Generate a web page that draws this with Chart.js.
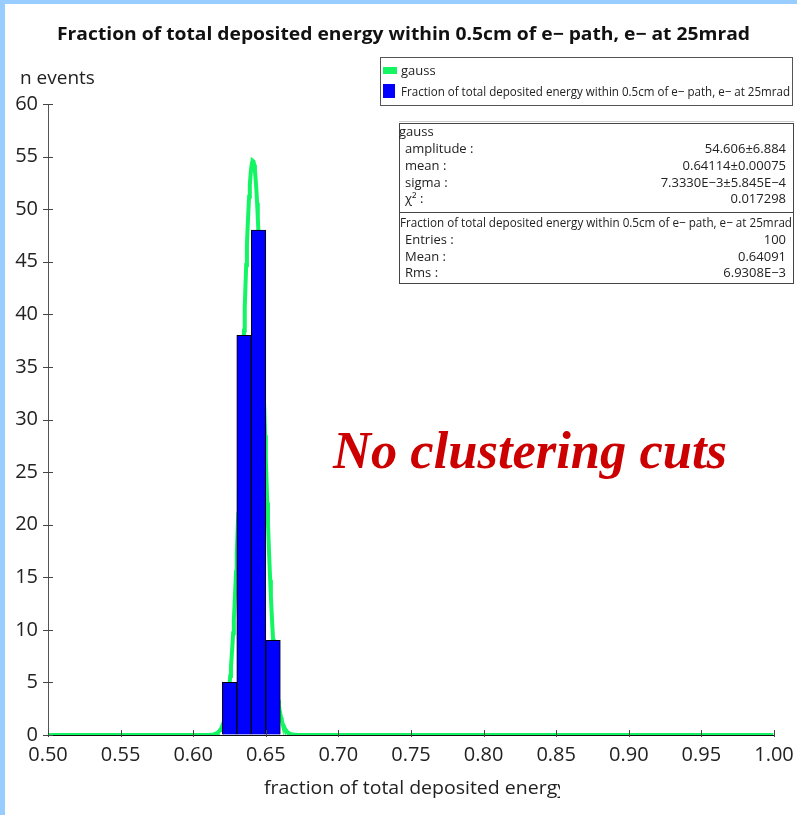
<!DOCTYPE html>
<html>
<head>
<meta charset="utf-8">
<script src="https://cdn.jsdelivr.net/npm/chart.js@4/dist/chart.umd.min.js"></script>
<style>
  html, body { margin: 0; padding: 0; background: #ffffff; }
  canvas { display: block; }
</style>
</head>
<body>
<canvas id="c" width="797" height="815"></canvas>
<script>
// Histogram: energy fraction bins (width 0.01) and their entry counts
const binCenters = [0.625, 0.635, 0.645, 0.655];
const binCounts = [5, 38, 48, 9];

// Gaussian fit parameters
const gaussAmplitude = 54.606;
const gaussMean = 0.64114;
const gaussSigma = 7.3330e-3;

// Axis ranges and tick steps
const xRange = [0.50, 1.00];
const xStep = 0.05;
const yRange = [0, 60];
const yStep = 5;

// Text of the fit and statistics boxes
const titleText = 'Fraction of total deposited energy within 0.5cm of e\u2212 path, e\u2212 at 25mrad';
const fitRows = [
  ['amplitude :', '54.606\u00b16.884'],
  ['mean :', '0.64114\u00b10.00075'],
  ['sigma :', '7.3330E\u22123\u00b15.845E\u22124'],
  ['\u03c7\u00b2 :', '0.017298']
];
const statRows = [
  ['Entries :', '100'],
  ['Mean :', '0.64091'],
  ['Rms :', '6.9308E\u22123']
];

// Fitted curve sampled across the x range
const curveStep = 0.0005;
const curvePoints = [];
for (let x = xRange[0]; x <= xRange[1] + 1e-9; x += curveStep) {
  const z = (x - gaussMean) / gaussSigma;
  curvePoints.push({ x: x, y: gaussAmplitude * Math.exp(-0.5 * z * z) });
}

const SANS = '"Open Sans", "DejaVu Sans", sans-serif';

function fitText(ctx, text, x, y, width, font, color) {
  ctx.font = font;
  ctx.fillStyle = color;
  ctx.textAlign = 'left';
  ctx.textBaseline = 'alphabetic';
  const w = ctx.measureText(text).width;
  ctx.save();
  ctx.translate(x, y);
  ctx.scale(width / w, 1);
  ctx.fillText(text, 0, 0);
  ctx.restore();
}

const decorations = {
  id: 'decorations',
  beforeDraw(chart) {
    const ctx = chart.ctx;
    ctx.save();
    ctx.fillStyle = '#ffffff';
    ctx.fillRect(0, 0, chart.width, chart.height);
    ctx.restore();
  },
  afterDraw(chart) {
    const ctx = chart.ctx;
    const xs = chart.scales.x, ys = chart.scales.y;
    const area = chart.chartArea;
    ctx.save();

    // tick marks crossing the axes
    ctx.strokeStyle = '#444';
    ctx.lineWidth = 1;
    ys.ticks.forEach(t => {
      const py = Math.round(ys.getPixelForValue(t.value)) + 0.5;
      ctx.beginPath();
      ctx.moveTo(area.left - 5, py);
      ctx.lineTo(area.left + 5, py);
      ctx.stroke();
    });
    xs.ticks.forEach(t => {
      const px = Math.round(xs.getPixelForValue(t.value)) + 0.5;
      ctx.beginPath();
      ctx.moveTo(px, area.bottom - 5);
      ctx.lineTo(px, area.bottom + 2);
      ctx.stroke();
    });

    // title
    fitText(ctx, titleText, 57, 40, 693, 'bold 18px ' + SANS, '#111');

    // axis titles
    ctx.font = '19px ' + SANS;
    ctx.fillStyle = '#222';
    ctx.textAlign = 'left';
    ctx.textBaseline = 'alphabetic';
    ctx.fillText('n events', 20, 84);
    ctx.save();
    ctx.beginPath();
    ctx.rect(250, 760, 310, 50);
    ctx.clip();
    fitText(ctx, 'fraction of total deposited energy', 264, 794, 303, '19px ' + SANS, '#222');
    ctx.restore();

    // legend box
    ctx.fillStyle = '#ffffff';
    ctx.fillRect(380, 57, 412, 49);
    ctx.strokeStyle = '#555';
    ctx.lineWidth = 1;
    ctx.strokeRect(380.5, 57.5, 412, 48);
    ctx.fillStyle = 'rgb(20,245,100)';
    ctx.fillRect(383, 67, 14, 7);
    ctx.fillStyle = '#0000ff';
    ctx.fillRect(383, 84, 12, 14);
    ctx.font = '13px ' + SANS;
    ctx.fillStyle = '#222';
    ctx.fillText('gauss', 401, 75);
    fitText(ctx, titleText, 401, 96, 389, '13px ' + SANS, '#222');

    // fit and statistics box
    ctx.fillStyle = '#ffffff';
    ctx.fillRect(399, 123, 394, 161);
    ctx.strokeStyle = '#ccc';
    ctx.beginPath(); ctx.moveTo(399, 121.5); ctx.lineTo(794, 121.5); ctx.stroke();
    ctx.strokeStyle = '#444';
    ctx.strokeRect(399.5, 123.5, 394, 160);
    ctx.beginPath(); ctx.moveTo(399, 212.5); ctx.lineTo(794, 212.5); ctx.stroke();

    ctx.font = '13px ' + SANS;
    ctx.fillStyle = '#222';
    ctx.textAlign = 'left';
    ctx.fillText('gauss', 399, 136);
    fitRows.forEach((r, i) => {
      const by = 153 + i * 16.8;
      ctx.textAlign = 'left';
      ctx.fillText(r[0], 405, by);
      ctx.textAlign = 'right';
      ctx.fillText(r[1], 786, by);
    });
    fitText(ctx, titleText, 400, 227, 392, '13px ' + SANS, '#222');
    ctx.font = '13px ' + SANS;
    statRows.forEach((r, i) => {
      const by = 244 + i * 16.5;
      ctx.textAlign = 'left';
      ctx.fillText(r[0], 405, by);
      ctx.textAlign = 'right';
      ctx.fillText(r[1], 786, by);
    });

    // annotation
    fitText(ctx, 'No clustering cuts', 333, 468, 394,
      'italic bold 53px "Liberation Serif", "Times New Roman", serif', '#cc0000');

    // page frame
    ctx.fillStyle = '#99ccff';
    ctx.fillRect(0, 0, chart.width, 4);
    ctx.fillRect(0, 0, 5, chart.height);
    ctx.restore();
  }
};

new Chart(document.getElementById('c'), {
  type: 'bar',
  data: {
    datasets: [
      {
        type: 'bar',
        label: 'Fraction of total deposited energy within 0.5cm of e- path, e- at 25mrad',
        data: binCenters.map((c, i) => ({ x: c, y: binCounts[i] })),
        backgroundColor: '#0000ff',
        borderColor: '#000000',
        borderWidth: 1,
        barPercentage: 1.0,
        categoryPercentage: 1.0,
        order: 0
      },
      {
        type: 'line',
        label: 'gauss',
        data: curvePoints,
        borderColor: 'rgb(20,245,100)',
        borderWidth: 4,
        pointRadius: 0,
        tension: 0,
        fill: false,
        order: 1
      }
    ]
  },
  options: {
    responsive: false,
    animation: false,
    events: [],
    layout: { padding: { left: 0, top: 104, right: 23, bottom: 0 } },
    plugins: {
      legend: { display: false },
      title: { display: false },
      tooltip: { enabled: false }
    },
    scales: {
      x: {
        type: 'linear',
        min: xRange[0],
        max: xRange[1],
        offset: false,
        grid: { display: true, drawOnChartArea: false, drawTicks: false, offset: false },
        border: { display: true, color: '#111', width: 1 },
        ticks: {
          stepSize: xStep,
          padding: 8,
          color: '#222',
          font: { family: SANS, size: 20 },
          maxRotation: 0,
          autoSkip: false,
          callback: v => Number(v).toFixed(2)
        },
        afterFit(scale) {
          scale.height = 80;
          scale.paddingLeft = 0;
          scale.paddingRight = 0;
        }
      },
      y: {
        type: 'linear',
        min: yRange[0],
        max: yRange[1],
        grid: { display: true, drawOnChartArea: false, drawTicks: false },
        border: { display: true, color: '#555', width: 1 },
        ticks: {
          stepSize: yStep,
          padding: 10,
          color: '#222',
          font: { family: SANS, size: 20 }
        },
        afterFit(scale) {
          scale.width = 48;
          scale.paddingTop = 0;
          scale.paddingBottom = 0;
        }
      }
    }
  },
  plugins: [decorations]
});
</script>
</body>
</html>
